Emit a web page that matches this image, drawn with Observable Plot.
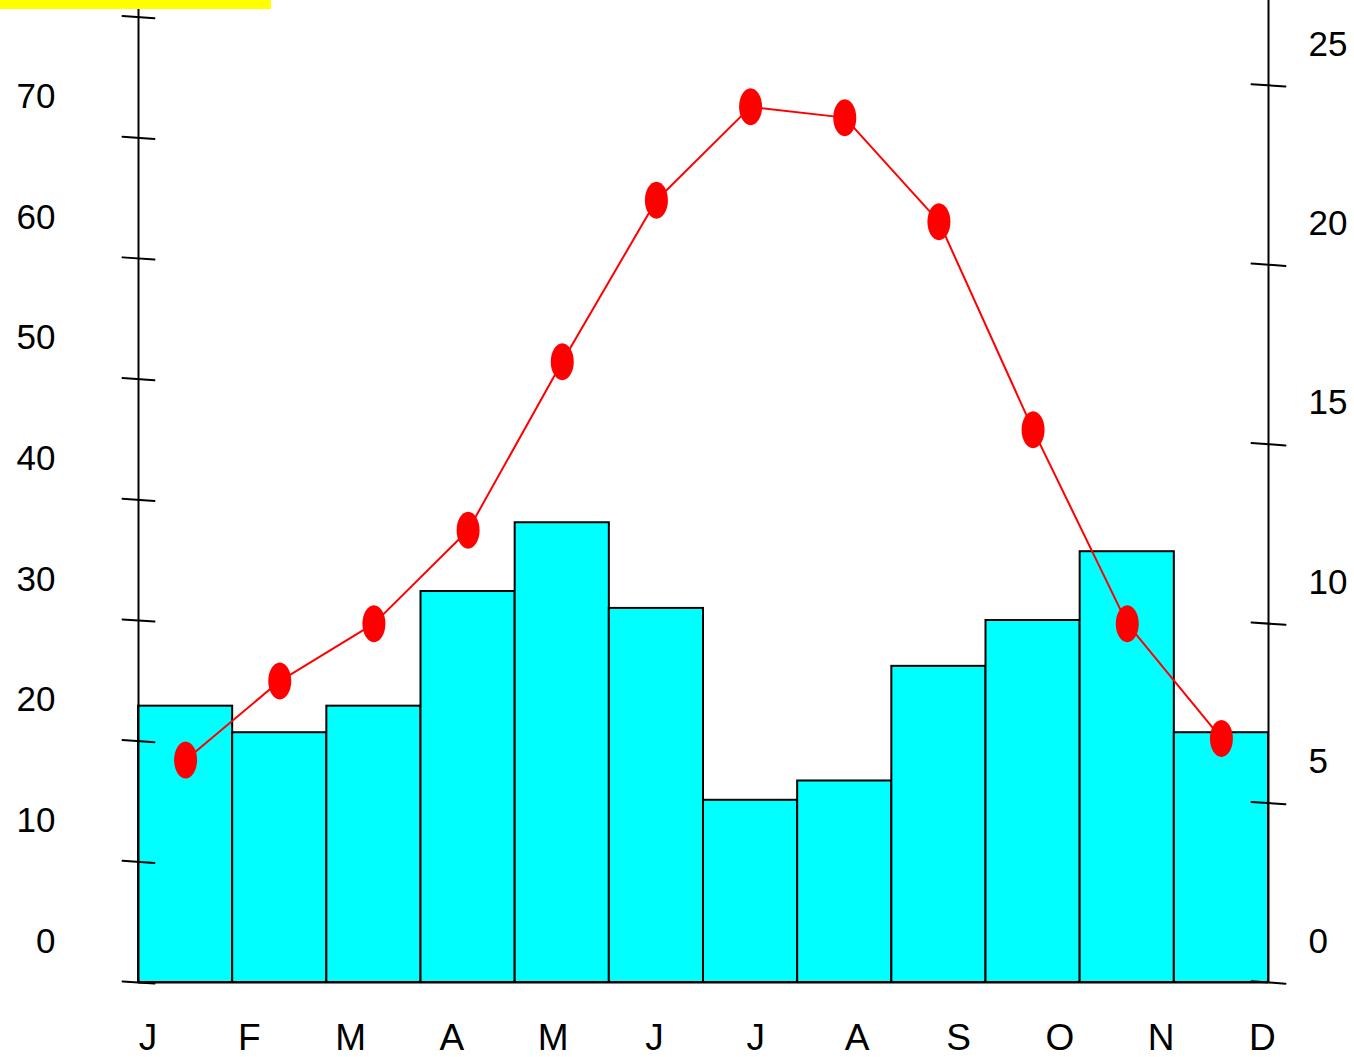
<!DOCTYPE html>
<html>
<head>
<meta charset="utf-8">
<script src="https://cdn.jsdelivr.net/npm/d3@7"></script>
<script src="https://cdn.jsdelivr.net/npm/@observablehq/plot@0.6"></script>
<style>
  html, body { margin: 0; padding: 0; background: #ffffff; }
  #wrap { position: relative; width: 1354px; height: 1057px; overflow: hidden; }
  #flag { position: absolute; left: 0; top: 0; width: 271px; height: 9px; background: #ffff00; z-index: 2; }
  #chart svg { display: block; }
</style>
</head>
<body>
<div id="wrap"><div id="flag"></div><div id="chart"></div></div>
<script>
// ---- data ----
const months = ["J", "F", "M", "A", "M", "J", "J", "A", "S", "O", "N", "D"];
const precipitation = [22.9, 20.7, 22.9, 32.4, 38.1, 31.0, 15.1, 16.7, 26.2, 30.0, 35.7, 20.7];
const temperature = [6.2, 8.4, 10.0, 12.6, 17.3, 21.8, 24.4, 24.1, 21.2, 15.4, 10.0, 6.8];
const precipTicks = [0, 10, 20, 30, 40, 50, 60, 70, 80];
const precipLabels = [0, 10, 20, 30, 40, 50, 60, 70];
const tempTicks = [0, 5, 10, 15, 20, 25];

// ---- layout ----
const RATIO = 2.974;          // precipitation units per °C on the shared y scale
const Y_MAX = 81.38;

const rows = months.map((m, i) => ({i, month: m, p: precipitation[i], t: temperature[i]}));

// vertically stretched ellipse marker
const ellipse = {
  draw(ctx) {
    const rx = 11.5, ry = 18.5, k = 0.5523;
    ctx.moveTo(rx, 0);
    ctx.bezierCurveTo(rx, k * ry, k * rx, ry, 0, ry);
    ctx.bezierCurveTo(-k * rx, ry, -rx, k * ry, -rx, 0);
    ctx.bezierCurveTo(-rx, -k * ry, -k * rx, -ry, 0, -ry);
    ctx.bezierCurveTo(k * rx, -ry, rx, -k * ry, rx, 0);
    ctx.closePath();
  }
};
// plain line tick for vector marks
const tickShape = {
  draw(ctx, l) { ctx.moveTo(0, 0); ctx.lineTo(0, -l); }
};

const chart = Plot.plot({
  width: 1354,
  height: 1057,
  marginLeft: 138,
  marginRight: 86,
  marginTop: 0,
  marginBottom: 75,
  style: {fontFamily: "'Liberation Sans', Arial, Helvetica, sans-serif", background: "#ffffff", overflow: "visible", color: "#000"},
  x: {domain: [0, 12], axis: null},
  y: {domain: [0, Y_MAX]},
  marks: [
    Plot.rect(rows, {x1: d => d.i, x2: d => d.i + 1, y1: 0, y2: "p", fill: "#00ffff", stroke: "#000000", strokeWidth: 2}),
    Plot.ruleX([0, 12], {stroke: "#000000", strokeWidth: 2}),
    Plot.ruleY([0], {stroke: "#000000", strokeWidth: 2}),
    Plot.vector(precipTicks, {x: 0, y: d => d, length: 32, rotate: 94, anchor: "middle", shape: tickShape, stroke: "#000000", strokeWidth: 2}),
    Plot.vector(tempTicks, {x: 12, y: d => d * RATIO, length: 34, rotate: 94, anchor: "middle", shape: tickShape, stroke: "#000000", strokeWidth: 2}),
    Plot.axisY(precipLabels, {anchor: "left", tickSize: 0, tickPadding: 83, dy: -41, fontSize: 35, label: null, tickFormat: d => String(d)}),
    Plot.axisY(tempTicks.map(t => t * RATIO), {anchor: "right", tickSize: 0, tickPadding: 40, dy: -41, fontSize: 35, label: null, tickFormat: d => String(Math.round(d / RATIO))}),
    Plot.line(rows, {x: d => d.i + 0.5, y: d => d.t * RATIO, stroke: "#ff0000", strokeWidth: 2}),
    Plot.dot(rows, {x: d => d.i + 0.5, y: d => d.t * RATIO, symbol: ellipse, fill: "#ff0000", stroke: "none"}),
    Plot.text(rows, {x: d => 0.1 + d.i * 1.076, y: 0, dy: 56, text: "month", fontSize: 37,
      fontFamily: "'Liberation Sans Narrow', 'Arial Narrow', 'Liberation Sans', sans-serif", textAnchor: "middle", fill: "#000000"})
  ]
});
document.getElementById("chart").appendChild(chart);
</script>
</body>
</html>
